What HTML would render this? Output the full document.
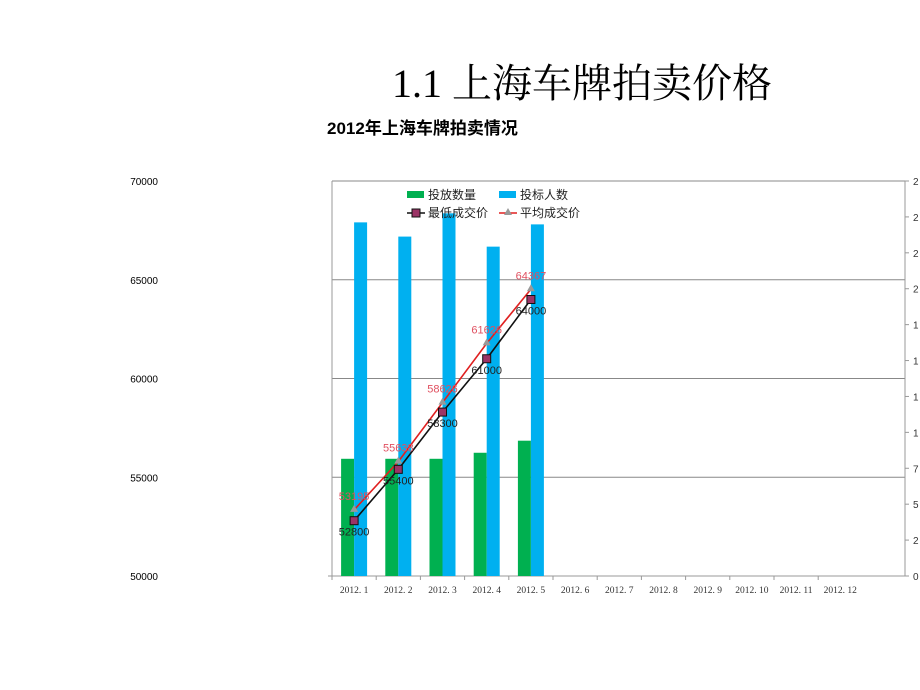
<!DOCTYPE html>
<html><head><meta charset="utf-8"><style>
body{margin:0;background:#fff;}
#wrap{position:relative;width:920px;height:690px;overflow:hidden;font-family:"Liberation Sans","Noto Sans CJK SC",sans-serif;}
</style></head><body>
<div id="wrap">
<div style="position:absolute;left:392px;top:52px;font-family:'Liberation Serif','Noto Serif CJK SC',serif;font-size:40px;color:#000;white-space:nowrap;">1.1 上海车牌拍卖价格</div>
<div style="position:absolute;left:327px;top:114px;font-size:17px;font-weight:bold;color:#000;white-space:nowrap;">2012年上海车牌拍卖情况</div>
<svg id="chart" width="920" height="690" style="position:absolute;left:0;top:0;" font-family="Liberation Sans, Noto Sans CJK SC, sans-serif"></svg>
</div>
<script>
const categories=["2012.1","2012.2","2012.3","2012.4","2012.5","2012.6","2012.7","2012.8","2012.9","2012.10","2012.11","2012.12"];
const quota=[8160,8160,8160,8580,9420];
const bidders=[24620,23630,25250,22930,24480];
const minPrice=[52800,55400,58300,61000,64000];
const avgPrice=[53195,55638,58626,61626,64367];
const leftTicks=[50000,55000,60000,65000,70000];
const rightTicks=[0,2500,5000,7500,10000,12500,15000,17500,20000,22500,25000,27500];

const svg=document.getElementById('chart');
const NS='http://www.w3.org/2000/svg';
const X0=332,X1=905,Y0=576,Y1=181,CW=44.2;
function yL(v){return Y0-(v-50000)/20000*(Y0-Y1);}
function yR(v){return Y0-v/27500*(Y0-Y1);}
function xC(i){return X0+CW*i+CW/2;}
function mk(tag,attrs,parent){const e=document.createElementNS(NS,tag);for(const k in attrs)e.setAttribute(k,attrs[k]);(parent||svg).appendChild(e);return e;}

// gridlines & left ticks
leftTicks.forEach((t,i)=>{
  const y=yL(t);
  if(i>0){const g=mk('line',{x1:X0,x2:X1,y1:y,y2:y,stroke:'#888','stroke-width':1});
  
  }
  const tx=mk('text',{x:158,y:y+4,'font-size':10,'text-anchor':'end',fill:'#000'});
  tx.textContent=t;
  
  
});
// axes
let a=mk('line',{x1:X0,x2:X0,y1:Y1,y2:Y0,stroke:'#999'});


a=mk('line',{x1:X1,x2:X1,y1:Y1,y2:Y0,stroke:'#999'});


a=mk('line',{x1:X0-4,x2:X1,y1:Y0,y2:Y0,stroke:'#999'});


rightTicks.forEach(t=>{
  const y=yR(t);
  mk('line',{x1:X1,x2:X1+4,y1:y,y2:y,stroke:'#999'});
  const tx=mk('text',{x:X1+8,y:y+4,'font-size':10,fill:'#333'});
  tx.textContent=String(t)[0];
  
  
});
categories.forEach((c,i)=>{
  mk('line',{x1:X0+CW*i,x2:X0+CW*i,y1:Y0,y2:Y0+4,stroke:'#999'});
  const tx=mk('text',{x:xC(i),y:Y0+17,'font-size':9.5,'text-anchor':'middle',fill:'#333','font-family':'Liberation Serif, serif'});
  tx.textContent=c.replace('.','. ');
  
  
});
// bars
quota.forEach((v,i)=>{
  const r=mk('rect',{x:xC(i)-13,y:yR(v),width:13,height:Y0-yR(v),fill:'#00b050'});
  
  
});
bidders.forEach((v,i)=>{
  const r=mk('rect',{x:xC(i),y:yR(v),width:13,height:Y0-yR(v),fill:'#00b0f0'});
  
  
});
// lines
const pAvg=avgPrice.map((v,i)=>xC(i)+','+(yL(v)-3)).join(' ');
let pl=mk('polyline',{points:pAvg,fill:'none',stroke:'#e02020','stroke-width':1.6});


const pMin=minPrice.map((v,i)=>xC(i)+','+yL(v)).join(' ');
pl=mk('polyline',{points:pMin,fill:'none',stroke:'#111','stroke-width':1.6});


avgPrice.forEach((v,i)=>{
  const x=xC(i),y=yL(v)-3;
  const t=mk('polygon',{points:`${x},${y-5} ${x-4},${y+2} ${x+4},${y+2}`,fill:'#999'});
  
  
  const tx=mk('text',{x:x,y:y-10,'font-size':11,'text-anchor':'middle',fill:'#e05060'});
  tx.textContent=v;
  
  
});
minPrice.forEach((v,i)=>{
  const x=xC(i),y=yL(v);
  const r=mk('rect',{x:x-4,y:y-4,width:8,height:8,fill:'#9b3466',stroke:'#111','stroke-width':1});
  
  
  const tx=mk('text',{x:x,y:y+15,'font-size':11,'text-anchor':'middle',fill:'#222'});
  tx.textContent=v;
  
  
});
// legend
function leg(name,x,y,label){
  const g=mk('g',{});
  
  
  const t=mk('text',{x:x+21,y:y+4,'font-size':12,fill:'#222'},g);
  t.textContent=label;
  return g;
}
let g=leg('legend-quota',407,195,'投放数量');mk('rect',{x:407,y:191,width:17,height:7,fill:'#00b050'},g);
g=leg('legend-bidders',499,195,'投标人数');mk('rect',{x:499,y:191,width:17,height:7,fill:'#00b0f0'},g);
g=leg('legend-min-price',407,213,'最低成交价');mk('line',{x1:407,x2:425,y1:213,y2:213,stroke:'#111','stroke-width':1.6},g);mk('rect',{x:412,y:209,width:8,height:8,fill:'#9b3466',stroke:'#111'},g);
g=leg('legend-avg-price',499,213,'平均成交价');mk('line',{x1:499,x2:517,y1:213,y2:213,stroke:'#e02020','stroke-width':1.6},g);mk('polygon',{points:'508,208 504,215 512,215',fill:'#999'},g);
</script>
</body></html>
